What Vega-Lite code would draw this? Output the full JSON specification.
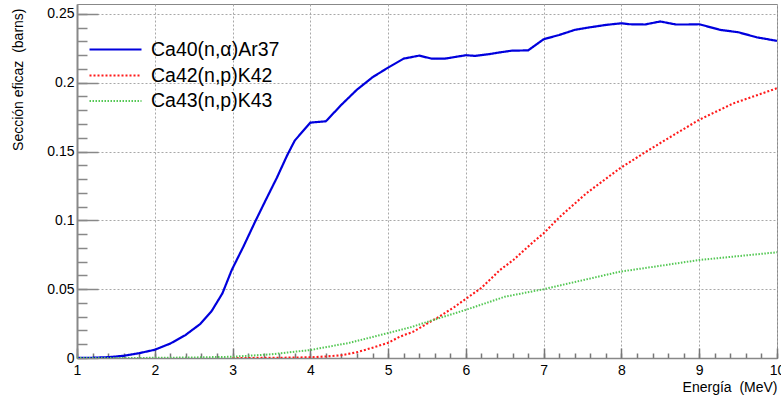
{
  "$schema": "https://vega.github.io/schema/vega-lite/v6.json",
  "width": 700,
  "height": 354,
  "autosize": {"type": "none"},
  "padding": {"left": 77, "top": 4, "right": 4, "bottom": 43},
  "config": {
    "view": {"stroke": "#888888", "strokeWidth": 1},
    "font": "Liberation Sans",
    "axis": {"labelFont": "Liberation Sans", "titleFont": "Liberation Sans"}
  },
  "data": {
    "values": [
      {"r": "Ca40(n,α)Ar37", "E": 1.0, "s": 0},
      {"r": "Ca40(n,α)Ar37", "E": 1.2, "s": 0.0002},
      {"r": "Ca40(n,α)Ar37", "E": 1.4, "s": 0.0006},
      {"r": "Ca40(n,α)Ar37", "E": 1.6, "s": 0.0016},
      {"r": "Ca40(n,α)Ar37", "E": 1.8, "s": 0.0035},
      {"r": "Ca40(n,α)Ar37", "E": 2.0, "s": 0.006},
      {"r": "Ca40(n,α)Ar37", "E": 2.2, "s": 0.0105},
      {"r": "Ca40(n,α)Ar37", "E": 2.39, "s": 0.0165},
      {"r": "Ca40(n,α)Ar37", "E": 2.58, "s": 0.0245},
      {"r": "Ca40(n,α)Ar37", "E": 2.73, "s": 0.034},
      {"r": "Ca40(n,α)Ar37", "E": 2.87, "s": 0.047},
      {"r": "Ca40(n,α)Ar37", "E": 2.99, "s": 0.064},
      {"r": "Ca40(n,α)Ar37", "E": 3.14, "s": 0.081},
      {"r": "Ca40(n,α)Ar37", "E": 3.29, "s": 0.099},
      {"r": "Ca40(n,α)Ar37", "E": 3.42, "s": 0.114},
      {"r": "Ca40(n,α)Ar37", "E": 3.57, "s": 0.131},
      {"r": "Ca40(n,α)Ar37", "E": 3.7, "s": 0.147},
      {"r": "Ca40(n,α)Ar37", "E": 3.8, "s": 0.158},
      {"r": "Ca40(n,α)Ar37", "E": 4.0, "s": 0.171},
      {"r": "Ca40(n,α)Ar37", "E": 4.2, "s": 0.172},
      {"r": "Ca40(n,α)Ar37", "E": 4.4, "s": 0.184},
      {"r": "Ca40(n,α)Ar37", "E": 4.6, "s": 0.195},
      {"r": "Ca40(n,α)Ar37", "E": 4.8, "s": 0.204},
      {"r": "Ca40(n,α)Ar37", "E": 5.0, "s": 0.211},
      {"r": "Ca40(n,α)Ar37", "E": 5.2, "s": 0.2175},
      {"r": "Ca40(n,α)Ar37", "E": 5.4, "s": 0.2197},
      {"r": "Ca40(n,α)Ar37", "E": 5.56, "s": 0.2175},
      {"r": "Ca40(n,α)Ar37", "E": 5.73, "s": 0.2175},
      {"r": "Ca40(n,α)Ar37", "E": 5.84, "s": 0.2185},
      {"r": "Ca40(n,α)Ar37", "E": 6.0, "s": 0.22},
      {"r": "Ca40(n,α)Ar37", "E": 6.12, "s": 0.2195},
      {"r": "Ca40(n,α)Ar37", "E": 6.29, "s": 0.2207},
      {"r": "Ca40(n,α)Ar37", "E": 6.42, "s": 0.2219},
      {"r": "Ca40(n,α)Ar37", "E": 6.59, "s": 0.2233},
      {"r": "Ca40(n,α)Ar37", "E": 6.8, "s": 0.2235},
      {"r": "Ca40(n,α)Ar37", "E": 7.0, "s": 0.2316},
      {"r": "Ca40(n,α)Ar37", "E": 7.2, "s": 0.2347},
      {"r": "Ca40(n,α)Ar37", "E": 7.4, "s": 0.2384},
      {"r": "Ca40(n,α)Ar37", "E": 7.6, "s": 0.2403},
      {"r": "Ca40(n,α)Ar37", "E": 7.8, "s": 0.242},
      {"r": "Ca40(n,α)Ar37", "E": 8.0, "s": 0.2432},
      {"r": "Ca40(n,α)Ar37", "E": 8.1, "s": 0.2425},
      {"r": "Ca40(n,α)Ar37", "E": 8.3, "s": 0.2423},
      {"r": "Ca40(n,α)Ar37", "E": 8.5, "s": 0.2445},
      {"r": "Ca40(n,α)Ar37", "E": 8.7, "s": 0.2423},
      {"r": "Ca40(n,α)Ar37", "E": 8.85, "s": 0.2423},
      {"r": "Ca40(n,α)Ar37", "E": 9.0, "s": 0.2425},
      {"r": "Ca40(n,α)Ar37", "E": 9.27, "s": 0.2384},
      {"r": "Ca40(n,α)Ar37", "E": 9.5, "s": 0.2367},
      {"r": "Ca40(n,α)Ar37", "E": 9.74, "s": 0.233},
      {"r": "Ca40(n,α)Ar37", "E": 10.0, "s": 0.2304},
      {"r": "Ca42(n,p)K42", "E": 3.0, "s": 0},
      {"r": "Ca42(n,p)K42", "E": 3.5, "s": 0.0001},
      {"r": "Ca42(n,p)K42", "E": 4.0, "s": 0.0005},
      {"r": "Ca42(n,p)K42", "E": 4.2, "s": 0.0011},
      {"r": "Ca42(n,p)K42", "E": 4.4, "s": 0.002},
      {"r": "Ca42(n,p)K42", "E": 4.6, "s": 0.0042},
      {"r": "Ca42(n,p)K42", "E": 4.8, "s": 0.0075},
      {"r": "Ca42(n,p)K42", "E": 5.0, "s": 0.011},
      {"r": "Ca42(n,p)K42", "E": 5.15, "s": 0.0155},
      {"r": "Ca42(n,p)K42", "E": 5.32, "s": 0.019},
      {"r": "Ca42(n,p)K42", "E": 5.5, "s": 0.025},
      {"r": "Ca42(n,p)K42", "E": 5.67, "s": 0.0305},
      {"r": "Ca42(n,p)K42", "E": 5.85, "s": 0.037},
      {"r": "Ca42(n,p)K42", "E": 6.0, "s": 0.043},
      {"r": "Ca42(n,p)K42", "E": 6.2, "s": 0.051},
      {"r": "Ca42(n,p)K42", "E": 6.44, "s": 0.064},
      {"r": "Ca42(n,p)K42", "E": 6.61, "s": 0.0712},
      {"r": "Ca42(n,p)K42", "E": 6.87, "s": 0.0845},
      {"r": "Ca42(n,p)K42", "E": 7.0, "s": 0.0906},
      {"r": "Ca42(n,p)K42", "E": 7.21, "s": 0.1027},
      {"r": "Ca42(n,p)K42", "E": 7.55, "s": 0.1197},
      {"r": "Ca42(n,p)K42", "E": 7.98, "s": 0.1378},
      {"r": "Ca42(n,p)K42", "E": 8.32, "s": 0.15},
      {"r": "Ca42(n,p)K42", "E": 8.67, "s": 0.162},
      {"r": "Ca42(n,p)K42", "E": 9.01, "s": 0.1734},
      {"r": "Ca42(n,p)K42", "E": 9.44, "s": 0.185},
      {"r": "Ca42(n,p)K42", "E": 10.0, "s": 0.196},
      {"r": "Ca43(n,p)K43", "E": 1.0, "s": 0},
      {"r": "Ca43(n,p)K43", "E": 2.0, "s": 0.0001},
      {"r": "Ca43(n,p)K43", "E": 2.5, "s": 0.0004},
      {"r": "Ca43(n,p)K43", "E": 3.0, "s": 0.0009},
      {"r": "Ca43(n,p)K43", "E": 3.5, "s": 0.0027},
      {"r": "Ca43(n,p)K43", "E": 4.0, "s": 0.0058},
      {"r": "Ca43(n,p)K43", "E": 4.5, "s": 0.011},
      {"r": "Ca43(n,p)K43", "E": 4.9, "s": 0.0167},
      {"r": "Ca43(n,p)K43", "E": 5.3, "s": 0.0225},
      {"r": "Ca43(n,p)K43", "E": 5.58, "s": 0.0276},
      {"r": "Ca43(n,p)K43", "E": 6.0, "s": 0.035},
      {"r": "Ca43(n,p)K43", "E": 6.5, "s": 0.0445},
      {"r": "Ca43(n,p)K43", "E": 7.0, "s": 0.05},
      {"r": "Ca43(n,p)K43", "E": 7.5, "s": 0.0565},
      {"r": "Ca43(n,p)K43", "E": 7.98, "s": 0.0627},
      {"r": "Ca43(n,p)K43", "E": 8.5, "s": 0.067},
      {"r": "Ca43(n,p)K43", "E": 9.0, "s": 0.0712},
      {"r": "Ca43(n,p)K43", "E": 9.5, "s": 0.074},
      {"r": "Ca43(n,p)K43", "E": 10.0, "s": 0.0768}
    ]
  },
  "layer": [
    {
      "mark": {"type": "line", "clip": true},
      "encoding": {
        "x": {
          "field": "E", "type": "quantitative",
          "scale": {"domain": [1, 10], "nice": false, "zero": false},
          "axis": {
            "values": [1, 1.2, 1.4, 1.6, 1.8, 2, 2.2, 2.4, 2.6, 2.8, 3, 3.2, 3.4, 3.6, 3.8, 4, 4.2, 4.4, 4.6, 4.8, 5, 5.2, 5.4, 5.6, 5.8, 6, 6.2, 6.4, 6.6, 6.8, 7, 7.2, 7.4, 7.6, 7.8, 8, 8.2, 8.4, 8.6, 8.8, 9, 9.2, 9.4, 9.6, 9.8, 10],
            "labelExpr": "abs(datum.value - round(datum.value)) < 0.001 ? format(datum.value, '~g') : ''",
            "tickSize": -5,
            "tickColor": "#777777",
            "tickWidth": 1.5,
            "domainColor": "#888888",
            "domainWidth": 1.5,
            "grid": true,
            "gridColor": "#a8a8a8",
            "gridDash": [2, 2],
            "gridOpacity": {"condition": {"test": "abs(datum.value - round(datum.value)) < 0.001", "value": 1}, "value": 0},
            "labelFontSize": 14,
            "labelColor": "#000000",
            "labelPadding": 10,
            "labelFlush": false,
            "labelOverlap": false,
            "title": "Energía\u00a0 (MeV)",
            "titleFontSize": 14,
            "titleFontWeight": "normal",
            "titleColor": "#000000",
            "titleAnchor": "end",
            "titleAlign": "right",
            "titleBaseline": "alphabetic",
            "titleX": 700,
            "titleY": 33
          }
        },
        "y": {
          "field": "s", "type": "quantitative",
          "scale": {"domain": [0, 0.2572], "nice": false, "zero": false},
          "axis": {
            "values": [0, 0.01, 0.02, 0.03, 0.04, 0.05, 0.06, 0.07, 0.08, 0.09, 0.1, 0.11, 0.12, 0.13, 0.14, 0.15, 0.16, 0.17, 0.18, 0.19, 0.2, 0.21, 0.22, 0.23, 0.24, 0.25],
            "labelExpr": "abs(datum.value * 20 - round(datum.value * 20)) < 0.001 ? format(datum.value, '~g') : ''",
            "tickSize": -10,
            "tickColor": "#888888",
            "tickWidth": 1.5,
            "domainColor": "#888888",
            "domainWidth": 2,
            "grid": true,
            "gridColor": "#a8a8a8",
            "gridDash": [2, 2],
            "gridOpacity": {"condition": {"test": "abs(datum.value * 20 - round(datum.value * 20)) < 0.001", "value": 1}, "value": 0},
            "labelFontSize": 14,
            "labelColor": "#000000",
            "labelPadding": 13,
            "labelFlush": false,
            "labelOverlap": false,
            "title": "Sección eficaz\u00a0 (barns)",
            "titleFontSize": 14,
            "titleFontWeight": "normal",
            "titleColor": "#000000",
            "titleAngle": -90,
            "titleAnchor": "end",
            "titleAlign": "right",
            "titleBaseline": "alphabetic",
            "titleX": -55,
            "titleY": 4
          }
        },
        "color": {
          "field": "r", "type": "nominal",
          "scale": {"domain": ["Ca40(n,α)Ar37", "Ca42(n,p)K42", "Ca43(n,p)K43"], "range": ["#0000dd", "#ff1a1a", "#55c855"]},
          "legend": {"title": null, "orient": "none", "legendX": 24, "legendY": 31, "symbolType": "M-2,0H2", "symbolSize": 676, "labelFontSize": 19.5, "labelFont": "Liberation Sans", "labelColor": "#000000", "labelOffset": 21, "rowPadding": 2, "padding": 0, "symbolStrokeWidth": 2}
        },
        "strokeDash": {
          "field": "r", "type": "nominal",
          "scale": {"domain": ["Ca40(n,α)Ar37", "Ca42(n,p)K42", "Ca43(n,p)K43"], "range": [[1, 0], [2, 2], [1.5, 1.5]]},
          "legend": {"title": null, "orient": "none", "legendX": 24, "legendY": 31, "symbolType": "M-2,0H2", "symbolSize": 676, "labelFontSize": 19.5, "labelFont": "Liberation Sans", "labelColor": "#000000", "labelOffset": 21, "rowPadding": 2, "padding": 0, "symbolStrokeWidth": 2}
        },
        "strokeWidth": {
          "field": "r", "type": "nominal",
          "scale": {"domain": ["Ca40(n,α)Ar37", "Ca42(n,p)K42", "Ca43(n,p)K43"], "range": [2.2, 2, 1.5]},
          "legend": {"title": null, "orient": "none", "legendX": 24, "legendY": 31, "symbolType": "M-2,0H2", "symbolSize": 676, "labelFontSize": 19.5, "labelFont": "Liberation Sans", "labelColor": "#000000", "labelOffset": 21, "rowPadding": 2, "padding": 0, "symbolStrokeWidth": 2}
        }
      }
    },
    {
      "mark": {"type": "line", "opacity": 0},
      "encoding": {
        "x": {
          "field": "E", "type": "quantitative",
          "scale": {"domain": [1, 10], "nice": false, "zero": false},
          "axis": {
            "orient": "bottom",
            "values": [1, 2, 3, 4, 5, 6, 7, 8, 9, 10],
            "tickSize": -10,
            "tickColor": "#777777",
            "tickWidth": 1.5,
            "domain": false,
            "grid": false,
            "labels": false,
            "title": null
          }
        },
        "y": {
          "field": "s", "type": "quantitative",
          "scale": {"domain": [0, 0.2572], "nice": false, "zero": false},
          "axis": {
            "orient": "left",
            "values": [0, 0.05, 0.1, 0.15, 0.2, 0.25],
            "tickSize": -21,
            "tickColor": "#888888",
            "tickWidth": 1.5,
            "domain": false,
            "grid": false,
            "labels": false,
            "title": null
          }
        },
        "detail": {"field": "r", "type": "nominal"}
      }
    }
  ],
  "resolve": {"axis": {"x": "independent", "y": "independent"}}
}
